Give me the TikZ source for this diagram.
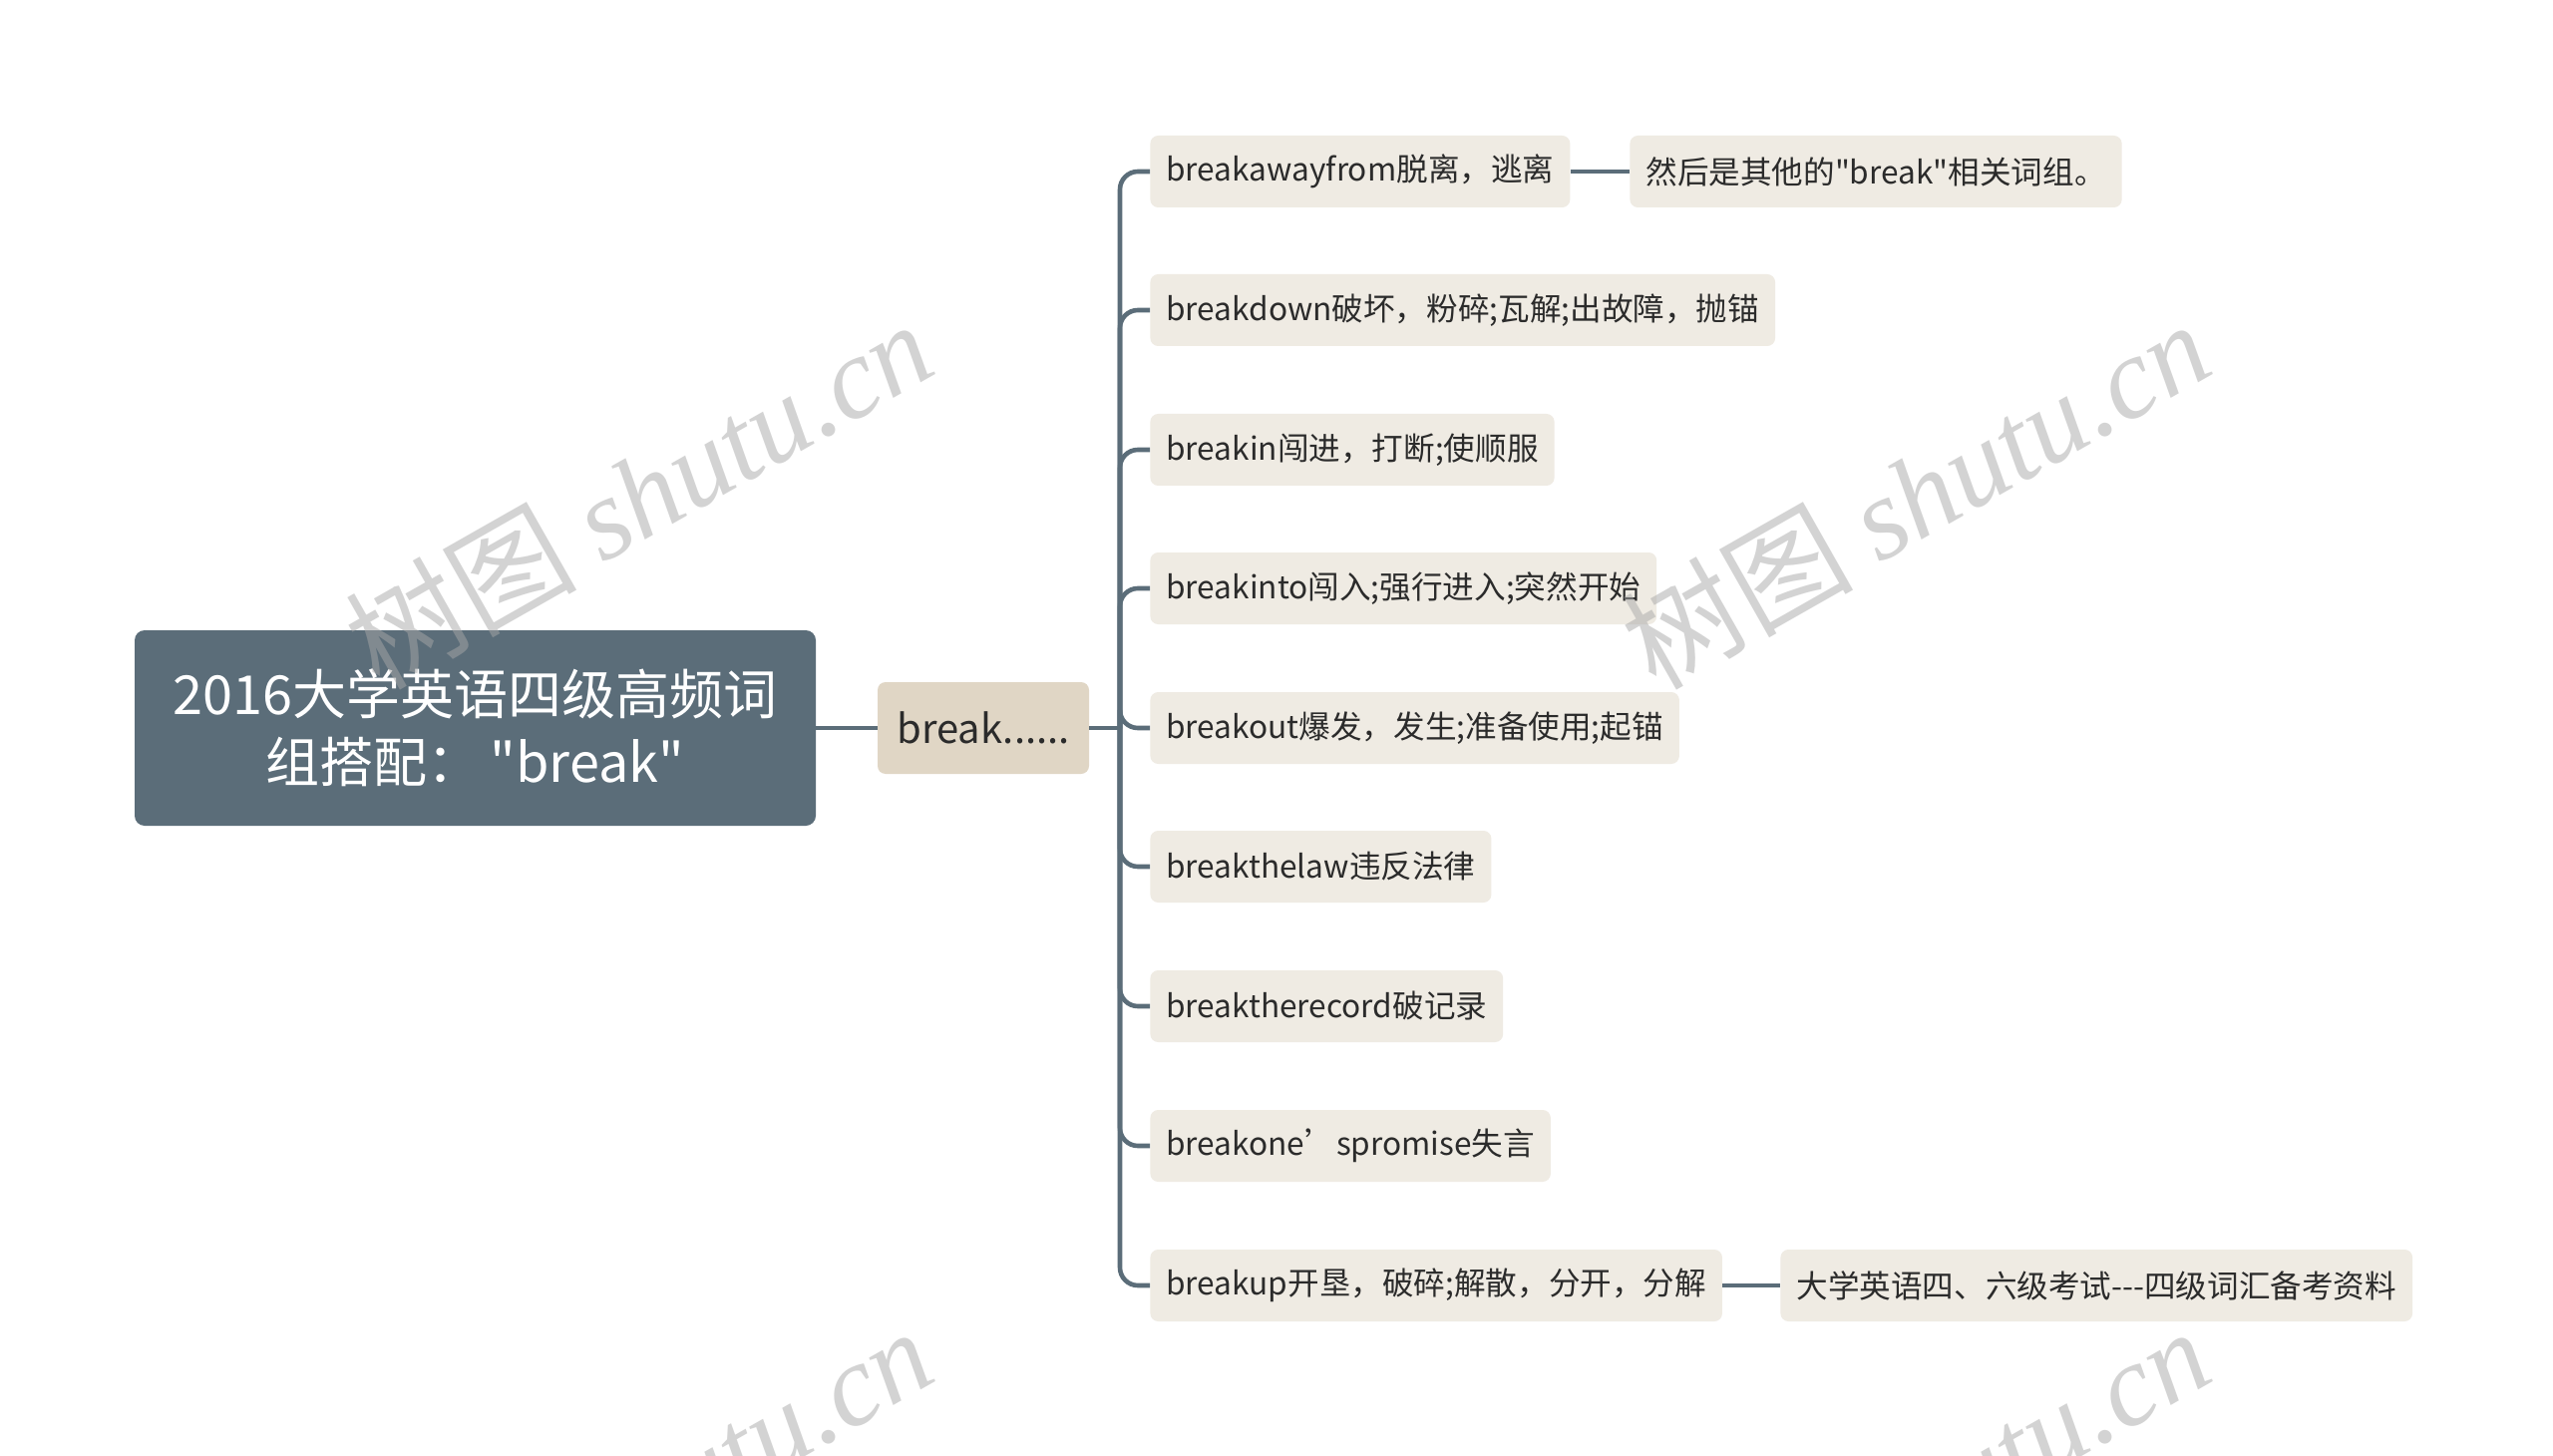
\documentclass[tikz,border=0pt]{standalone}
\usepackage{fontspec}
\setmainfont{Noto Sans CJK SC}[Ligatures=TeXOff]
\newfontfamily\wmlat{Liberation Serif}[Ligatures=TeXOff]
\definecolor{slate}{HTML}{5B6D79}
\definecolor{beige}{HTML}{E0D6C5}
\definecolor{leaf}{HTML}{EFEBE3}
\definecolor{ink}{HTML}{2B2B2B}
\definecolor{wm}{HTML}{A8A8A8}
\begin{document}
\begin{tikzpicture}[x=0.5pt,y=-0.5pt,
  rootbox/.style={fill=slate,rounded corners=5pt,text=white,align=center,
    minimum width=341.5pt,minimum height=98pt,inner sep=0pt,
    font=\fontsize{27}{34}\selectfont},
  midbox/.style={fill=beige,rounded corners=4pt,text=ink,
    minimum width=106pt,minimum height=46pt,inner sep=0pt,
    font=\fontsize{20}{24}\selectfont},
  leafbox/.style={fill=leaf,rounded corners=4pt,text=ink,anchor=west,
    minimum height=36pt,inner xsep=8pt,inner ysep=0pt,
    font=\fontsize{15.8}{20}\selectfont},
  conn/.style={draw=slate,line width=2.3pt},
  wmark/.style={text=wm,opacity=0.5,rotate=29.6,font=\fontsize{58}{64}\selectfont}
]
\useasboundingbox (0,0) rectangle (2560,1460);
\fill[white] (0,0) rectangle (2560,1460);

\node[rootbox] (root) at (476.5,730) {2016大学英语四级高频词\\组搭配：\,"break"};
\node[midbox] (brk) at (986,730) {break......};

\node[leafbox] (c1) at (1153,172) {breakawayfrom脱离，逃离};
\node[leafbox] (c2) at (1153,311) {breakdown破坏，粉碎;瓦解;出故障，抛锚};
\node[leafbox] (c3) at (1153,451) {breakin闯进，打断;使顺服};
\node[leafbox] (c4) at (1153,590) {breakinto闯入;强行进入;突然开始};
\node[leafbox] (c5) at (1153,730) {breakout爆发，发生;准备使用;起锚};
\node[leafbox] (c6) at (1153,869) {breakthelaw违反法律};
\node[leafbox] (c7) at (1153,1009) {breaktherecord破记录};
\node[leafbox] (c8) at (1153,1149) {breakone’spromise失言};
\node[leafbox] (c9) at (1153,1289) {breakup开垦，破碎;解散，分开，分解};

\node[leafbox] (g1) at (1634,172) {然后是其他的"break"相关词组。};
\node[leafbox] (g9) at (1785,1289) {大学英语四、六级考试---四级词汇备考资料};

\coordinate (tr) at (1123,730);
\draw[conn] (root.east) -- (brk.west);
\draw[conn] (brk.east) -- (tr);
\foreach \c in {c1,c2,c3,c4,c5,c6,c7,c8,c9}
  \draw[conn,rounded corners=9pt] (tr) |- (\c.west);
\draw[conn] (c1.east) -- (g1.west);
\draw[conn] (c9.east) -- (g9.west);

\begin{scope}
\clip (0,0) rectangle (2560,1460);
\node[wmark] (wm1) at (640,495) {树图 {\wmlat\itshape shutu.cn}};
\node[wmark] (wm2) at (1920,495) {树图 {\wmlat\itshape shutu.cn}};
\node[wmark] (wm3) at (640,1505) {树图 {\wmlat\itshape shutu.cn}};
\node[wmark] (wm4) at (1920,1505) {树图 {\wmlat\itshape shutu.cn}};
\end{scope}
\end{tikzpicture}
\end{document}
